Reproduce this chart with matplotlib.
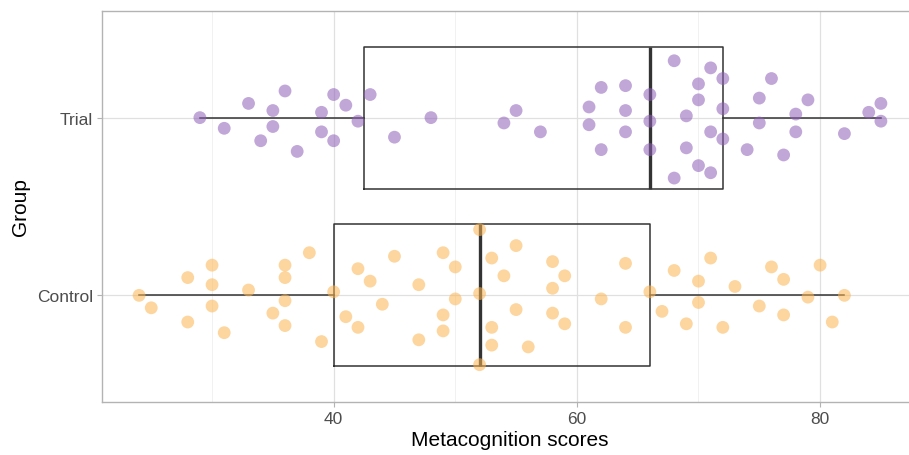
import numpy as np
import matplotlib
matplotlib.use('Agg')
import matplotlib.pyplot as plt
from matplotlib.ticker import MultipleLocator

plt.rcParams['font.family'] = ['Liberation Sans', 'DejaVu Sans']

# Metacognition scores, with the vertical jitter of each point
groups = ['Control', 'Trial']

trial_scores = [29, 31, 33, 35, 36, 35, 34, 37, 39, 39, 40, 40, 41, 42, 43,
                45, 48, 54, 55, 57, 61, 61, 62, 62, 64, 64, 64, 66, 66, 66,
                68, 68, 69, 69, 70, 70, 70, 71, 71, 71, 72, 72, 72, 74, 75,
                75, 76, 77, 78, 78, 79, 82, 84, 85, 85]
trial_jitter = [0.00, -0.06, 0.08, 0.04, 0.15, -0.05, -0.13, -0.19, 0.03, -0.08,
                0.13, -0.13, 0.07, -0.02, 0.13,
                -0.11, 0.00, -0.03, 0.04, -0.08, 0.06, -0.04, 0.17, -0.18, 0.18,
                0.04, -0.08, 0.13, -0.02, -0.18,
                0.32, -0.34, 0.01, -0.17, 0.19, 0.10, -0.27, 0.28, -0.08, -0.31,
                0.22, 0.05, -0.12, -0.18, 0.11, -0.03, 0.22, -0.21, 0.02, -0.08,
                0.10, -0.09, 0.03, 0.08, -0.02]

control_scores = [24, 25, 28, 28, 30, 30, 30, 31, 33, 35, 36, 36, 36, 36, 38,
                  39, 40, 42, 43, 41, 42, 44,
                  45, 47, 47, 49, 49, 49, 50, 50, 52, 52, 52, 53, 53, 53, 54,
                  55, 55, 56, 58, 58, 58, 59, 59, 62, 64, 64,
                  66, 67, 68, 69, 70, 70, 71, 72, 73, 75, 76, 77, 77, 79, 80,
                  81, 82]
control_jitter = [0.00, -0.07, 0.10, -0.15, 0.17, 0.06, -0.06, -0.21, 0.03, -0.10,
                  0.17, 0.10, -0.03, -0.17, 0.24, -0.26, 0.02, 0.15, 0.08, -0.12,
                  -0.18, -0.05,
                  0.22, 0.06, -0.25, 0.24, -0.11, -0.20, 0.16, -0.02, 0.37, 0.01,
                  -0.39, 0.21, -0.18, -0.28, 0.11, 0.28, -0.08, -0.29, 0.19, 0.04,
                  -0.10, 0.11, -0.16, -0.02, 0.18, -0.18,
                  0.02, -0.09, 0.14, -0.16, 0.08, -0.04, 0.21, -0.18, 0.05, -0.06,
                  0.16, 0.09, -0.11, -0.01, 0.17, -0.15, 0.00]

colors = {'Control': '#fcb450', 'Trial': '#8e5fb8'}

fig = plt.figure(figsize=(9.09, 4.56), dpi=100)
# panel runs slightly past the right edge, like the original
ax = fig.add_axes([102 / 909, 53 / 456, 816 / 909, 391 / 456])

box_color = '#333333'
ax.boxplot([control_scores, trial_scores], positions=[1, 2], vert=False,
           widths=0.8, whis=1.5, showfliers=False, showcaps=False,
           boxprops=dict(color=box_color, linewidth=1.1),
           whiskerprops=dict(color=box_color, linewidth=1.1),
           medianprops=dict(color=box_color, linewidth=2.4),
           zorder=2)

ax.scatter(control_scores, 1 + np.array(control_jitter), s=85,
           color=colors['Control'], alpha=0.55, edgecolors='none', zorder=3)
ax.scatter(trial_scores, 2 + np.array(trial_jitter), s=85,
           color=colors['Trial'], alpha=0.55, edgecolors='none', zorder=3)

ax.set_xlim(20.95, 88.05)
ax.set_ylim(0.4, 2.6)
ax.set_yticks([1, 2])
ax.set_yticklabels(groups)
ax.xaxis.set_major_locator(MultipleLocator(20))
ax.xaxis.set_minor_locator(MultipleLocator(10))

ax.grid(True, which='major', color='#e0e0e0', linewidth=0.9, zorder=0)
ax.grid(True, which='minor', axis='x', color='#efefef', linewidth=0.6, zorder=0)
ax.set_axisbelow(True)

for s in ax.spines.values():
    s.set_color('#b3b3b3')
    s.set_linewidth(1.0)

ax.tick_params(axis='both', which='major', length=3.5, width=0.8,
               color='#b3b3b3', labelcolor='#4d4d4d', labelsize=12.5, pad=3)
ax.tick_params(axis='x', which='minor', length=0)

ax.set_xlabel('Metacognition scores', fontsize=15, labelpad=3)
ax.set_ylabel('Group', fontsize=15, labelpad=5)

fig.savefig('out.png', dpi=100)
